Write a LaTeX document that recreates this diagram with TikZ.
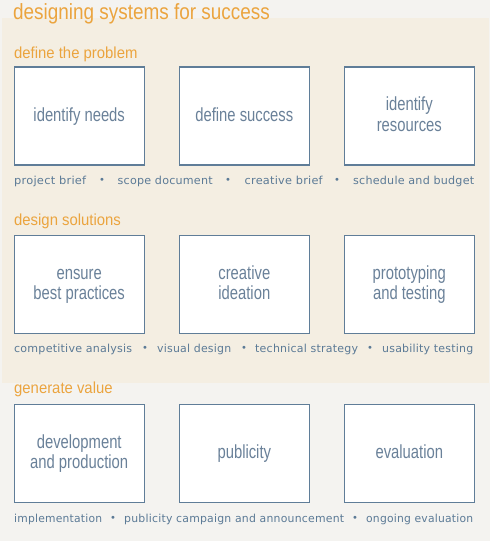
\documentclass[tikz,border=0pt]{standalone}
\usepackage{fontspec}
\usepackage{graphicx}
\setmainfont{Liberation Sans}
\newfontfamily\titlefont[FakeStretch=0.86]{Liberation Sans}
\newfontfamily\headfont[FakeStretch=0.93]{Liberation Sans}
\newfontfamily\boxfont[FakeStretch=0.78]{Liberation Sans}
\newfontfamily\capfont[LetterSpace=2]{DejaVu Sans}
\newfontfamily\dotfont{DejaVu Sans}
\definecolor{orangeT}{HTML}{EBA43E}
\definecolor{boxline}{HTML}{5F7D98}
\definecolor{boxtext}{HTML}{6A8199}
\definecolor{captext}{HTML}{5B7A96}
\definecolor{beige}{HTML}{F4EEE2}
\definecolor{greybg}{HTML}{F4F3F0}
\newcommand{\bs}{\rule[-4pt]{0pt}{18pt}}
\newcommand{\capw}[2]{\resizebox{#1pt}{\height}{#2}}
\tikzset{
  stepbox/.style={draw=boxline, line width=1.1pt, fill=white, minimum width=130pt,
    minimum height=98pt, inner sep=0pt, align=center, text=boxtext,
    font=\boxfont\fontsize{19}{20.5}\selectfont},
  titletext/.style={anchor=base west, inner sep=0pt, text=orangeT, font=\titlefont\fontsize{22}{24}\selectfont},
  headtext/.style={anchor=base west, inner sep=0pt, text=orangeT, font=\headfont\fontsize{16}{18}\selectfont},
  captiontext/.style={anchor=base west, inner sep=0pt, text=captext, font=\capfont\fontsize{11}{12}\selectfont},
  dot/.style={anchor=base, inner sep=0pt, text=captext, font=\dotfont\fontsize{10}{12}\selectfont}
}
\begin{document}
\begin{tikzpicture}[x=1pt,y=-1pt]
\useasboundingbox (0,0) rectangle (490,541);
\fill[greybg] (0,0) rectangle (490,541);
\fill[beige] (2,18) rectangle (489,383);

\node[titletext] (title) at (13,19.5) {designing systems for success};

% row 1
\node[headtext] (h1) at (14,58.5) {define the problem};
\node[stepbox] (b11) at (79.2,116) {identify needs\bs};
\node[stepbox] (b12) at (244.3,116) {define success\bs};
\node[stepbox] (b13) at (409.3,116) {identify\bs\\resources\bs};
\node[captiontext] (c11) at (14,184) {\capw{72}{project brief}};
\node[dot] (d11) at (102,183.5) {•};
\node[captiontext] (c12) at (117.5,184) {\capw{95}{scope document}};
\node[dot] (d12) at (228,183.5) {•};
\node[captiontext] (c13) at (244.5,184) {\capw{78}{creative brief}};
\node[dot] (d13) at (337,183.5) {•};
\node[captiontext] (c14) at (353,184) {\capw{121}{schedule and budget}};

% row 2
\node[headtext] (h2) at (14,225) {design solutions};
\node[stepbox] (b21) at (79.2,284.3) {ensure\bs\\best practices\bs};
\node[stepbox] (b22) at (244.3,284.3) {creative\bs\\ideation\bs};
\node[stepbox] (b23) at (409.3,284.3) {prototyping\bs\\and testing\bs};
\node[captiontext] (c21) at (14,352) {\capw{118}{competitive analysis}};
\node[dot] (d21) at (145,351.5) {•};
\node[captiontext] (c22) at (157,352) {\capw{74}{visual design}};
\node[dot] (d22) at (244,351.5) {•};
\node[captiontext] (c23) at (255,352) {\capw{103}{technical strategy}};
\node[dot] (d23) at (370,351.5) {•};
\node[captiontext] (c24) at (382,352) {\capw{91}{usability testing}};

% row 3
\node[headtext] (h3) at (14,393) {generate value};
\node[stepbox] (b31) at (79.2,453.3) {development\bs\\and production\bs};
\node[stepbox] (b32) at (244.3,453.3) {publicity\bs};
\node[stepbox] (b33) at (409.3,453.3) {evaluation\bs};
\node[captiontext] (c31) at (14,522) {\capw{88}{implementation}};
\node[dot] (d31) at (113,521.5) {•};
\node[captiontext] (c32) at (124,522) {\capw{220}{publicity campaign and announcement}};
\node[dot] (d32) at (355,521.5) {•};
\node[captiontext] (c33) at (366,522) {\capw{107}{ongoing evaluation}};
\end{tikzpicture}
\end{document}
